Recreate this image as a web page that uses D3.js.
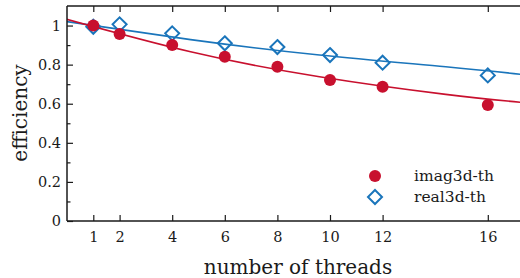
<!doctype html>
<html>
<head>
<meta charset="utf-8">
<script src="https://cdn.jsdelivr.net/npm/d3@7"></script>
<style>
  body { margin: 0; background: #fff; }
  svg text { font-family: "DejaVu Serif", "Liberation Serif", serif; fill: #1a1a1a; }
</style>
</head>
<body>
<svg id="chart" width="520" height="278"></svg>
<script>
const threads = [1, 2, 4, 6, 8, 10, 12, 16];
const imagEff = [1.0, 0.957, 0.90, 0.840, 0.789, 0.721, 0.687, 0.593];
const realEff = [0.994, 1.006, 0.960, 0.909, 0.890, 0.849, 0.810, 0.745];

// fitted curves
const fitX = [-0.3, 4.7, 9.6, 14.4, 17.5];
const imagFit = [1.043, 0.866, 0.738, 0.648, 0.604];
const realFit = [1.026, 0.928, 0.849, 0.789, 0.747];

const xTicks = [1, 2, 4, 6, 8, 10, 12, 16];
const yTicks = [0, 0.2, 0.4, 0.6, 0.8, 1];
const yMinor = [0.1, 0.3, 0.5, 0.7, 0.9];

const seriesNames = ["imag3d-th", "real3d-th"];
const red = "#c8102e", blue = "#1a75bb";

const svg = d3.select("#chart");
const padL = 67, padT = 6, padB = 221;
const x = d3.scaleLinear().domain([0, 17.5]).range([padL, padL + 26.3 * 17.5]);
const y = d3.scaleLinear().domain([0, 1.1]).range([padB, padT]);

svg.append("clipPath").attr("id", "clip")
  .append("rect").attr("x", padL).attr("y", padT).attr("width", 520 - padL).attr("height", padB - padT);

const plot = svg.append("g").attr("clip-path", "url(#clip)");
const line = d3.line().x(d => x(d[0])).y(d => y(d[1])).curve(d3.curveNatural);

// real3d first so imag3d sits on top
plot.append("path")
  .attr("d", line(fitX.map((v, i) => [v, realFit[i]])))
  .attr("fill", "none").attr("stroke", blue).attr("stroke-width", 1.6);
const dsz = 7;
plot.selectAll(".dia").data(threads).join("path")
  .attr("d", (d, i) => {
    const cx = x(d), cy = y(realEff[i]);
    return `M${cx},${cy - dsz}L${cx + dsz},${cy}L${cx},${cy + dsz}L${cx - dsz},${cy}Z`;
  })
  .attr("fill", "none").attr("stroke", blue).attr("stroke-width", 2);

plot.append("path")
  .attr("d", line(fitX.map((v, i) => [v, imagFit[i]])))
  .attr("fill", "none").attr("stroke", red).attr("stroke-width", 1.6);
plot.selectAll(".dot").data(threads).join("circle")
  .attr("cx", d => x(d))
  .attr("cy", (d, i) => y(imagEff[i]))
  .attr("r", 6).attr("fill", red);

// axes frame
const axisG = svg.append("g").attr("stroke", "#1a1a1a").attr("stroke-width", 1.5);
axisG.append("line").attr("x1", padL).attr("x2", 520).attr("y1", padT).attr("y2", padT);
axisG.append("line").attr("x1", padL).attr("x2", 520).attr("y1", padB).attr("y2", padB);
axisG.append("line").attr("x1", padL).attr("x2", padL).attr("y1", padT).attr("y2", padB);

const bx = svg.append("g").attr("transform", `translate(0,${padB})`)
  .call(d3.axisBottom(x).tickValues(xTicks).tickSize(-6).tickPadding(11).tickFormat(d3.format("d")));
const tx = svg.append("g").attr("transform", `translate(0,${padT})`)
  .call(d3.axisTop(x).tickValues(xTicks).tickSize(-6).tickFormat(""));
const ly = svg.append("g").attr("transform", `translate(${padL},0)`)
  .call(d3.axisLeft(y).tickValues(yTicks).tickSize(-6).tickPadding(6).tickFormat(d => d === 0 || d === 1 ? d3.format("d")(d) : d3.format(".1f")(d)));
const my = svg.append("g").attr("transform", `translate(${padL},0)`)
  .call(d3.axisLeft(y).tickValues(yMinor).tickSize(-3.5).tickFormat(""));

[bx, tx, ly, my].forEach(g => {
  g.select(".domain").remove();
  g.selectAll(".tick line").attr("stroke", "#1a1a1a").attr("stroke-width", 1.2);
  g.selectAll("text").attr("font-size", 14.5).attr("font-family", "DejaVu Serif").attr("fill", "#1a1a1a");
});

svg.append("text")
  .attr("x", 298).attr("y", 274)
  .attr("text-anchor", "middle").attr("font-size", 20)
  .text("number of threads");
svg.append("text")
  .attr("transform", "translate(27,113) rotate(-90)")
  .attr("text-anchor", "middle").attr("font-size", 20)
  .text("efficiency");

// legend
const leg = svg.append("g");
leg.append("circle").attr("cx", 375).attr("cy", 176).attr("r", 6).attr("fill", red);
leg.append("path")
  .attr("d", `M375,${197 - dsz}L${375 + dsz},197L375,${197 + dsz}L${375 - dsz},197Z`)
  .attr("fill", "none").attr("stroke", blue).attr("stroke-width", 2);
leg.selectAll("text").data(seriesNames).join("text")
  .attr("x", 414).attr("y", (d, i) => 181 + i * 21)
  .attr("font-size", 15.5)
  .text(d => d);
</script>
</body>
</html>
